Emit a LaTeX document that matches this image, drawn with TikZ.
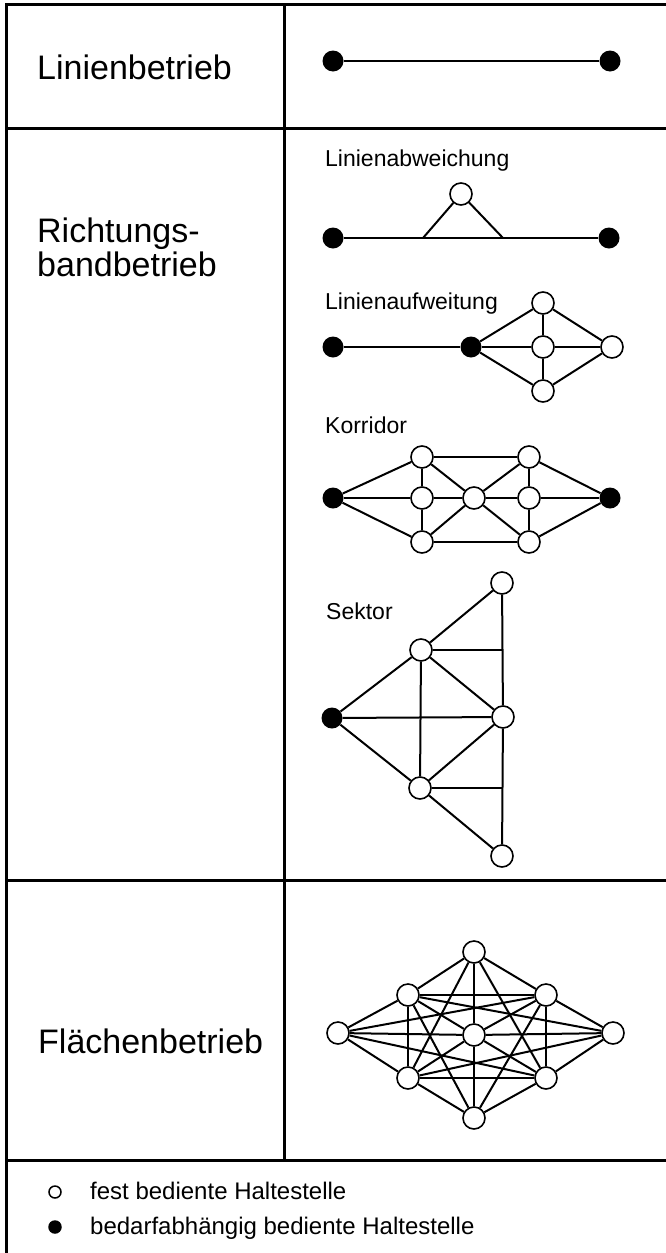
\documentclass[tikz,border=0pt]{standalone}
\usepackage{fontspec}
\setmainfont{Liberation Sans}
\begin{document}
\begin{tikzpicture}[x=1pt,y=-1pt,
 frameline/.style={line width=3pt},
 edge/.style={line width=2pt},
 opn/.style={circle,draw,line width=1.6pt,fill=white,minimum size=22pt,inner sep=0pt},
 fil/.style={circle,fill=black,minimum size=21pt,inner sep=0pt},
 big/.style={font=\fontsize{34}{40}\selectfont,anchor=base west,inner sep=0pt},
 small/.style={font=\fontsize{23}{27}\selectfont,anchor=base west,inner sep=0pt},
 legtext/.style={font=\fontsize{24}{28}\selectfont,anchor=base west,inner sep=0pt},
]
\useasboundingbox (0,0) rectangle (666,1253);
\fill[white] (0,0) rectangle (666,1253);
% frame
\draw[frameline] (6,1253) -- (6,4) -- (666,4);
\draw[frameline] (6,128) -- (666,128);
\draw[frameline] (6,880) -- (666,880);
\draw[frameline] (6,1160) -- (666,1160);
\draw[frameline] (284,4) -- (284,1160);
% row labels
\node[big] (t1) at (37,79) {Linienbetrieb};
\node[big] (t2a) at (37,242) {Richtungs-};
\node[big] (t2b) at (37,276) {bandbetrieb};
\node[big] (t3) at (38,1053) {Flächenbetrieb};
% Linienbetrieb
\node[fil] (lb1) at (333,61) {};
\node[fil] (lb2) at (610,61) {};
\draw[edge] (lb1) -- (lb2);
% Linienabweichung
\node[small] (s1) at (325,166) {Linienabweichung};
\node[fil] (la1) at (333,238) {};
\node[fil] (la2) at (609,238) {};
\node[opn] (la3) at (461,194) {};
\coordinate (lab1) at (423,238);
\coordinate (lab2) at (503,238);
\draw[edge] (la1) -- (la2);
\draw[edge] (lab1) -- (la3) -- (lab2);
% Linienaufweitung
\node[small] (s2) at (325,309) {Linienaufweitung};
\node[fil] (lw1) at (333,347) {};
\node[fil] (lw2) at (471,347) {};
\node[opn] (lwt) at (543,303) {};
\node[opn] (lwm) at (543,347) {};
\node[opn] (lwb) at (543,391) {};
\node[opn] (lwr) at (612,347) {};
\draw[edge] (lw1) -- (lw2);
\draw[edge] (lw2) -- (lwt);
\draw[edge] (lw2) -- (lwm);
\draw[edge] (lw2) -- (lwb);
\draw[edge] (lwt) -- (lwm);
\draw[edge] (lwm) -- (lwb);
\draw[edge] (lwt) -- (lwr);
\draw[edge] (lwm) -- (lwr);
\draw[edge] (lwb) -- (lwr);
% Korridor
\node[small] (s3) at (325,433) {Korridor};
\node[fil] (kl) at (333,498) {};
\node[opn] (kt1) at (422,457) {};
\node[opn] (km1) at (422,498) {};
\node[opn] (kb1) at (422,542) {};
\node[opn] (kc) at (474,498) {};
\node[opn] (kt2) at (529,457) {};
\node[opn] (km2) at (529,498) {};
\node[opn] (kb2) at (529,542) {};
\node[fil] (kr) at (610,498) {};
\foreach \a/\b in {kl/kt1,kl/km1,kl/kb1,kt1/km1,km1/kb1,kt1/kt2,kb1/kb2,kt1/kc,km1/kc,kb1/kc,kc/kt2,kc/km2,kc/kb2,kt2/km2,km2/kb2,kt2/kr,km2/kr,kb2/kr}
  \draw[edge] (\a) -- (\b);
% Sektor
\node[small] (s4) at (326,619) {Sektor};
\node[opn] (st) at (502,583) {};
\node[opn] (su) at (421,650) {};
\node[fil] (sl) at (332,718) {};
\node[opn] (sm) at (503,717) {};
\node[opn] (sd) at (420,788) {};
\node[opn] (sb) at (502,856) {};
\coordinate (sh1) at (502.5,650);
\coordinate (sh2) at (502.5,788);
\foreach \a/\b in {su/st,st/sm,sm/sb,su/sm,su/sl,su/sd,sl/sm,sl/sd,sd/sm,sd/sb}
  \draw[edge] (\a) -- (\b);
\draw[edge] (su) -- (sh1);
\draw[edge] (sd) -- (sh2);
% Flaechenbetrieb
\node[opn] (ft) at (474,952) {};
\node[opn] (ful) at (408,995) {};
\node[opn] (fur) at (546,995) {};
\node[opn] (fl) at (338,1033) {};
\node[opn] (fc) at (474,1035) {};
\node[opn] (fr) at (613,1033) {};
\node[opn] (fll) at (408,1078) {};
\node[opn] (flr) at (546,1078) {};
\node[opn] (fb) at (474,1118) {};
\foreach \a/\b in {ft/ful,ft/fur,ft/fc,ft/fll,ft/flr,fb/fll,fb/flr,fb/fc,fb/ful,fb/fur,ful/fur,ful/fll,ful/fl,ful/fr,ful/fc,fur/flr,fur/fr,fur/fl,fur/fc,fll/flr,fll/fl,fll/fr,fll/fc,flr/fr,flr/fl,flr/fc,fl/fc,fr/fc}
  \draw[edge] (\a) -- (\b);
% legend
\node[circle,draw,line width=1.5pt,minimum size=12pt,inner sep=0pt] (lg1) at (55,1192) {};
\node[circle,fill=black,minimum size=13.5pt,inner sep=0pt] (lg2) at (55,1227) {};
\node[legtext] (lt1) at (90,1199) {fest bediente Haltestelle};
\node[legtext] (lt2) at (90,1234) {bedarfabhängig bediente Haltestelle};
\end{tikzpicture}
\end{document}
